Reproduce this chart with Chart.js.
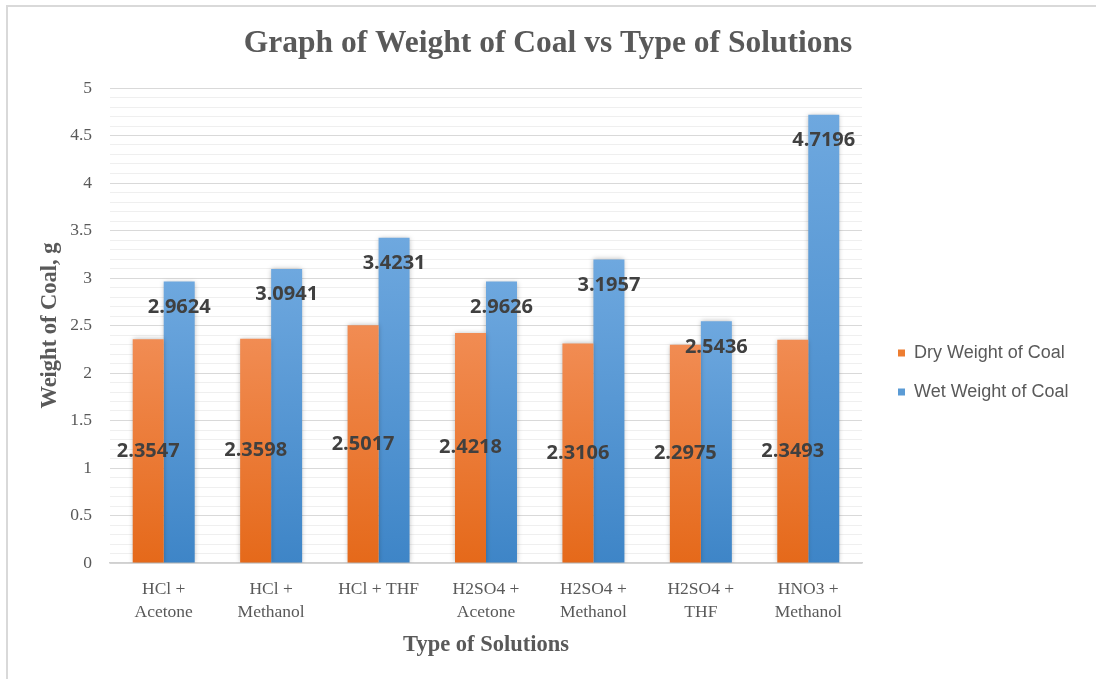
<!DOCTYPE html>
<html>
<head>
<meta charset="utf-8">
<script src="https://cdn.jsdelivr.net/npm/chart.js@4.4.1/dist/chart.umd.min.js"></script>
<style>
  html, body { margin: 0; padding: 0; background: #ffffff; }
  #wrap { width: 1096px; height: 679px; position: relative; }
</style>
</head>
<body>
<div id="wrap"><canvas id="c" width="1096" height="679"></canvas></div>
<script>
// Solutions tested (x categories)
const solutions = [
  ['HCl +', 'Acetone'],
  ['HCl +', 'Methanol'],
  'HCl + THF',
  ['H2SO4 +', 'Acetone'],
  ['H2SO4 +', 'Methanol'],
  ['H2SO4 +', 'THF'],
  ['HNO3 +', 'Methanol']
];

// Coal weights in grams
const dryWeight = [2.3547, 2.3598, 2.5017, 2.4218, 2.3106, 2.2975, 2.3493];
const wetWeight = [2.9624, 3.0941, 3.4231, 2.9626, 3.1957, 2.5436, 4.7196];

const seriesNames = ['Dry Weight of Coal', 'Wet Weight of Coal'];

const GREY_TEXT = '#595959';

// Vertical gradient per bar: lighter at the top, deeper at the base
function barGradient(top, bottom, solid) {
  return function (ctx) {
    const chart = ctx.chart;
    if (ctx.type !== 'data' || !chart.chartArea || !chart.scales.y) return solid;
    const y = chart.scales.y;
    const v = ctx.dataset.data[ctx.dataIndex];
    const yTop = y.getPixelForValue(v);
    const yBase = y.getPixelForValue(0);
    const g = chart.ctx.createLinearGradient(0, yTop, 0, yBase);
    g.addColorStop(0, top);
    g.addColorStop(1, bottom);
    return g;
  };
}

// White page with the light frame along the top and left edges
const framePlugin = {
  id: 'frame',
  beforeDraw(chart) {
    const c = chart.ctx;
    c.save();
    c.fillStyle = '#ffffff';
    c.fillRect(0, 0, chart.width, chart.height);
    c.strokeStyle = '#d9d9d9';
    c.lineWidth = 2;
    c.beginPath();
    c.moveTo(7, chart.height);
    c.lineTo(7, 6);
    c.lineTo(chart.width, 6);
    c.stroke();
    c.restore();
  }
};

// Soft shadow behind bars, then value labels on top
const barDecor = {
  id: 'barDecor',
  beforeDatasetsDraw(chart) {
    const c = chart.ctx;
    c.save();
    c.shadowColor = 'rgba(0,0,0,0.28)';
    c.shadowBlur = 5;
    c.shadowOffsetX = 0;
    c.shadowOffsetY = 0;
  },
  afterDatasetsDraw(chart) {
    const c = chart.ctx;
    c.restore();
    c.save();
    c.font = 'bold 20px "Open Sans", "Liberation Sans", sans-serif';
    c.fillStyle = '#404040';
    c.textAlign = 'center';
    c.textBaseline = 'middle';
    chart.data.datasets.forEach((ds, di) => {
      const meta = chart.getDatasetMeta(di);
      meta.data.forEach((bar, i) => {
        const v = ds.data[i];
        const txt = v.toFixed(4);
        let y;
        if (di === 0) {
          y = (bar.y + bar.base) / 2;       // centred inside the bar
        } else {
          y = bar.y + 25.5;                 // just inside the top end
        }
        c.fillText(txt, bar.x, y);
      });
    });
    c.restore();
  }
};

// Legend at the right of the plot area
const sideLegend = {
  id: 'sideLegend',
  afterDraw(chart) {
    const c = chart.ctx;
    const area = chart.chartArea;
    const x = area.right + 36;
    const ys = [area.top + 265, area.top + 304];
    c.save();
    c.font = '18px "Liberation Sans", Arial, sans-serif';
    c.textBaseline = 'middle';
    c.textAlign = 'left';
    chart.data.datasets.forEach((ds, i) => {
      c.fillStyle = ds.legendColor;
      c.fillRect(x, ys[i] - 3.5, 7, 7);
      c.fillStyle = GREY_TEXT;
      c.fillText(ds.label, x + 16, ys[i]);
    });
    c.restore();
  }
};

const serif = '"Liberation Serif", "Times New Roman", serif';

new Chart(document.getElementById('c'), {
  type: 'bar',
  data: {
    labels: solutions,
    datasets: [
      {
        label: seriesNames[0],
        data: dryWeight,
        legendColor: '#ED7D31',
        backgroundColor: barGradient('#F18C53', '#E5691A', '#ED7D31'),
        borderWidth: 0
      },
      {
        label: seriesNames[1],
        data: wetWeight,
        legendColor: '#5B9BD5',
        backgroundColor: barGradient('#6EA8DF', '#3E85C7', '#5B9BD5'),
        borderWidth: 0
      }
    ]
  },
  options: {
    responsive: false,
    animation: false,
    devicePixelRatio: 1,
    layout: { padding: 0 },
    categoryPercentage: 0.577,
    barPercentage: 1.0,
    plugins: {
      legend: { display: false },
      tooltip: { enabled: false },
      title: {
        display: true,
        text: 'Graph of Weight of Coal vs Type of Solutions',
        color: GREY_TEXT,
        font: { family: serif, size: 31.5, weight: 'bold', lineHeight: 1.2 },
        padding: { top: 25, bottom: 25.2 }
      }
    },
    scales: {
      x: {
        grid: { display: false },
        border: { display: true, color: '#d0d0d0', width: 1.5 },
        ticks: {
          color: GREY_TEXT,
          padding: 7,
          maxRotation: 0,
          autoSkip: false,
          font: { family: serif, size: 17.5, lineHeight: 1.3 }
        },
        title: {
          display: true,
          text: 'Type of Solutions',
          color: GREY_TEXT,
          font: { family: serif, size: 22.5, weight: 'bold', lineHeight: 1.2 },
          padding: { top: 0, bottom: 20.5 }
        },
        afterFit(scale) { scale.height = 116; }
      },
      y: {
        min: 0,
        max: 5,
        border: { display: false },
        grid: {
          drawTicks: false,
          color: (ctx) => (Math.round(ctx.tick.value * 10) % 5 === 0 ? '#d9d9d9' : '#efefef'),
          lineWidth: 1
        },
        ticks: {
          stepSize: 0.1,
          autoSkip: false,
          padding: 18,
          color: GREY_TEXT,
          font: { family: serif, size: 17.5 },
          callback: (v) => (Math.round(v * 10) % 5 === 0 ? String(Math.round(v * 10) / 10) : '')
        },
        title: {
          display: true,
          text: 'Weight of Coal, g',
          color: GREY_TEXT,
          font: { family: serif, size: 22.5, weight: 'bold', lineHeight: 1.2 },
          padding: { top: 37, bottom: 0 }
        },
        afterFit(scale) { scale.width = 110; }
      },
      // empty strip on the right that holds the legend
      legendSpace: {
        type: 'linear',
        position: 'right',
        display: true,
        grid: { display: false, drawTicks: false },
        border: { display: false },
        ticks: { display: false },
        afterFit(scale) { scale.width = 234; }
      }
    }
  },
  plugins: [framePlugin, barDecor, sideLegend]
});
</script>
</body>
</html>
